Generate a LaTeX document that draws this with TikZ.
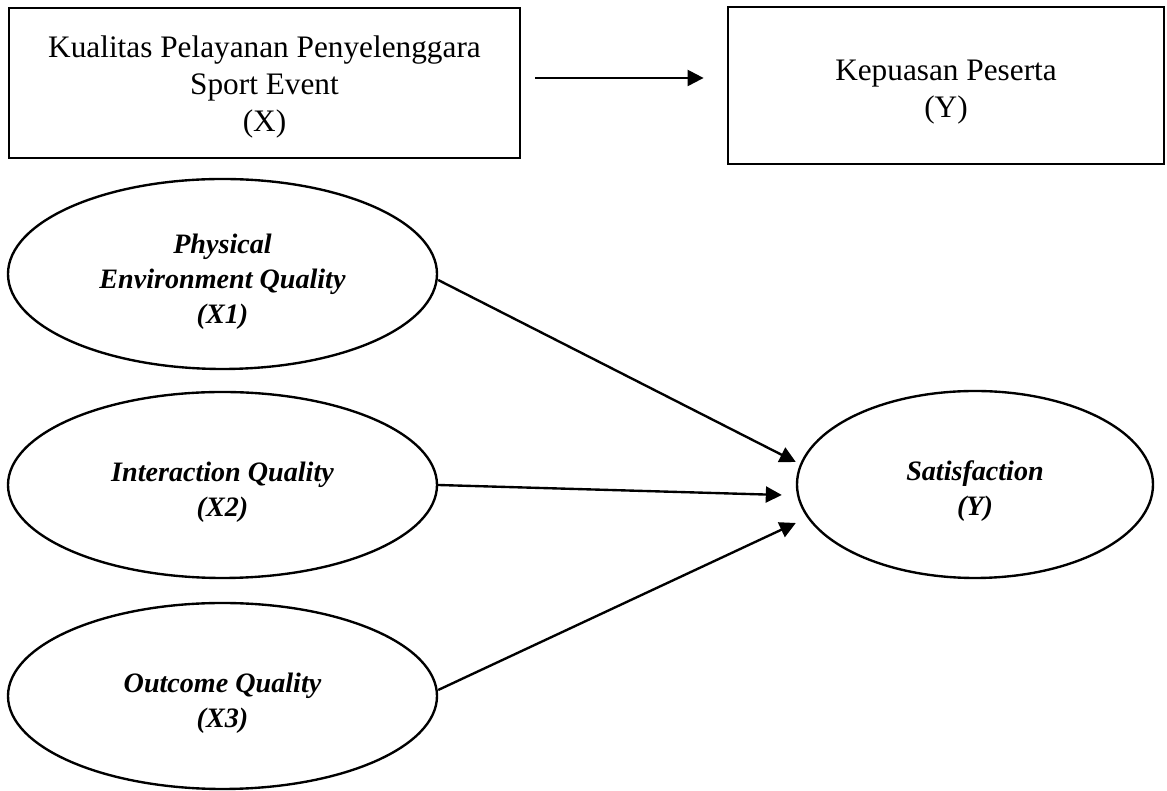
\documentclass[tikz,border=0pt]{standalone}
\usepackage{fontspec}
\setmainfont{Liberation Serif}
\usetikzlibrary{arrows.meta, shapes.geometric}

\begin{document}
\begin{tikzpicture}[
    kotak/.style={draw, line width=1.6pt, rectangle, inner sep=0pt},
    elips/.style={draw, line width=1.35pt, ellipse, inner sep=0pt,
        minimum width=8.58cm, minimum height=3.72cm},
    teks/.style={align=center, inner sep=0pt, font=\fontsize{17.8}{21}\selectfont},
    teksmiring/.style={align=center, inner sep=0pt, font=\fontsize{16}{20}\selectfont\bfseries\itshape},
    panah/.style={-{Triangle[length=0.32cm,width=0.32cm]}, line width=1.35pt}
]
    \useasboundingbox (0,0) rectangle (23.34,15.82);
    \node[kotak, minimum width=10.22cm, minimum height=3cm] (kualitas) at (5.29,14.16) {};
    \node[teks] (kualitasteks) at ([yshift=-0.08cm]kualitas.center)
        {Kualitas Pelayanan Penyelenggara\\Sport Event\\(X)};
    \node[kotak, minimum width=8.72cm, minimum height=3.14cm] (kepuasan) at (18.92,14.11) {};
    \node[teks] (kepuasanteks) at ([yshift=-0.13cm]kepuasan.center) {Kepuasan Peserta\\(Y)};
    \node[elips, minimum height=3.8cm] (x1) at (4.45,10.34) {};
    \node[teksmiring] (x1teks) at ([yshift=-0.15cm]x1.center) {Physical\\Environment Quality\\(X1)};
    \node[elips] (x2) at (4.45,6.12) {};
    \node[teksmiring] (x2teks) at ([yshift=-0.14cm]x2.center) {Interaction Quality\\(X2)};
    \node[elips] (x3) at (4.45,1.9) {};
    \node[teksmiring] (x3teks) at ([yshift=-0.14cm]x3.center) {Outcome Quality\\(X3)};
    \node[elips, minimum width=7.12cm, minimum height=3.74cm] (sat) at (19.5,6.13) {};
    \node[teksmiring] (satteks) at ([yshift=-0.14cm]sat.center) {Satisfaction\\(Y)};
    \draw[panah] ([xshift=0.28cm,yshift=0.1cm]kualitas.east) -- ([xshift=-0.46cm,yshift=0.1cm]kualitas.east -| kepuasan.west);
    \draw[panah] ([yshift=-0.12cm]x1.east) -- ([yshift=0.45cm]sat.west);
    \draw[panah] (x2.east) -- ([xshift=-0.28cm,yshift=-0.21cm]sat.west);
    \draw[panah] ([yshift=0.12cm]x3.east) -- ([yshift=-0.77cm]sat.west);
\end{tikzpicture}
\end{document}
